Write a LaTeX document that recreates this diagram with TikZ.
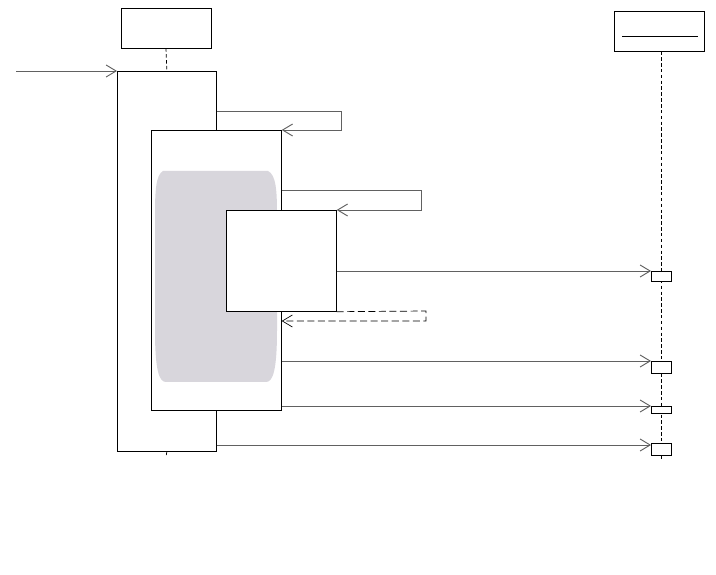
\documentclass[tikz,border=0pt]{standalone}
\usetikzlibrary{positioning, arrows.meta}
\definecolor{blobgrey}{RGB}{216,214,220}
\begin{document}
\begin{tikzpicture}[x=0.3mm, y=-0.3mm, line width=0.6pt,
  >={Straight Barb[length=3mm, width=3.6mm]},
  head/.style={draw, fill=white, minimum width=27mm, minimum height=12mm, inner sep=0},
  act/.style={draw, fill=white, inner sep=0, anchor=north west},
  slot/.style={draw, fill=white, inner sep=0, minimum width=6mm, anchor=north west},
  life/.style={densely dashed, line width=0.6pt},
  msg/.style={->, draw=black!62, line width=0.8pt},
  ret/.style={->, draw=black, dashed, dash pattern=on 6pt off 3pt, line width=0.6pt}]
\useasboundingbox (0,0) rectangle (716,575);
% lifeline heads
\node[head] (headA) at (166,28) {};
\node[head] (headB) at (659,31) {};
\draw (622,36) -- (698,36);
% activations
\node[act, minimum width=29.7mm, minimum height=114mm] (actA) at (117,71) {};
\draw[life] (headA.south) -- (actA.north);
\draw[life] (actA.south) -- (166,457);
\coordinate (lifeB) at ([xshift=0.6mm]headB.south);
\draw[life] (lifeB) -- (lifeB |- 0,460);
\node[act, minimum width=39mm, minimum height=84mm] (actB) at (151,130) {};
% grey region inside the second activation
\fill[blobgrey] (163,171) -- (268,171) .. controls (276,175) and (277,190) .. (277,215)
  -- (277,330) .. controls (277,370) and (273,382) .. (266,382) -- (166,382)
  .. controls (159,382) and (155,370) .. (155,330) -- (155,215)
  .. controls (155,190) and (156,175) .. (163,171) -- cycle;
\node[act, minimum width=33mm, minimum height=30.3mm] (actC) at (226,210) {};
% execution slots on the right lifeline
\node[slot, minimum height=3mm]   (slot1) at (651,271) {};
\node[slot, minimum height=3.6mm] (slot2) at (651,361) {};
\node[slot, minimum height=2.1mm] (slot3) at (651,406) {};
\node[slot, minimum height=3.6mm] (slot4) at (651,443) {};
% messages
\coordinate (found) at (16,71);
\draw[msg] (found) -- (actA.north west);
\draw[msg] (actA.east |- 0,111) -| (341,130) -- (actB.north east);
\draw[msg] (actB.east |- 0,190) -| (421,210) -- (actC.north east);
\draw[msg] (actC.east |- slot1.north west) -- (slot1.north west);
\draw[ret] (actC.south east) -- (426,311) -- (426,321) -- (actB.east |- 0,321);
\draw[msg] (actB.east |- slot2.north west) -- (slot2.north west);
\draw[msg] (actB.east |- slot3.north west) -- (slot3.north west);
\draw[msg] (actA.east |- 0,445) -- (slot4.west |- 0,445);
\end{tikzpicture}
\end{document}
